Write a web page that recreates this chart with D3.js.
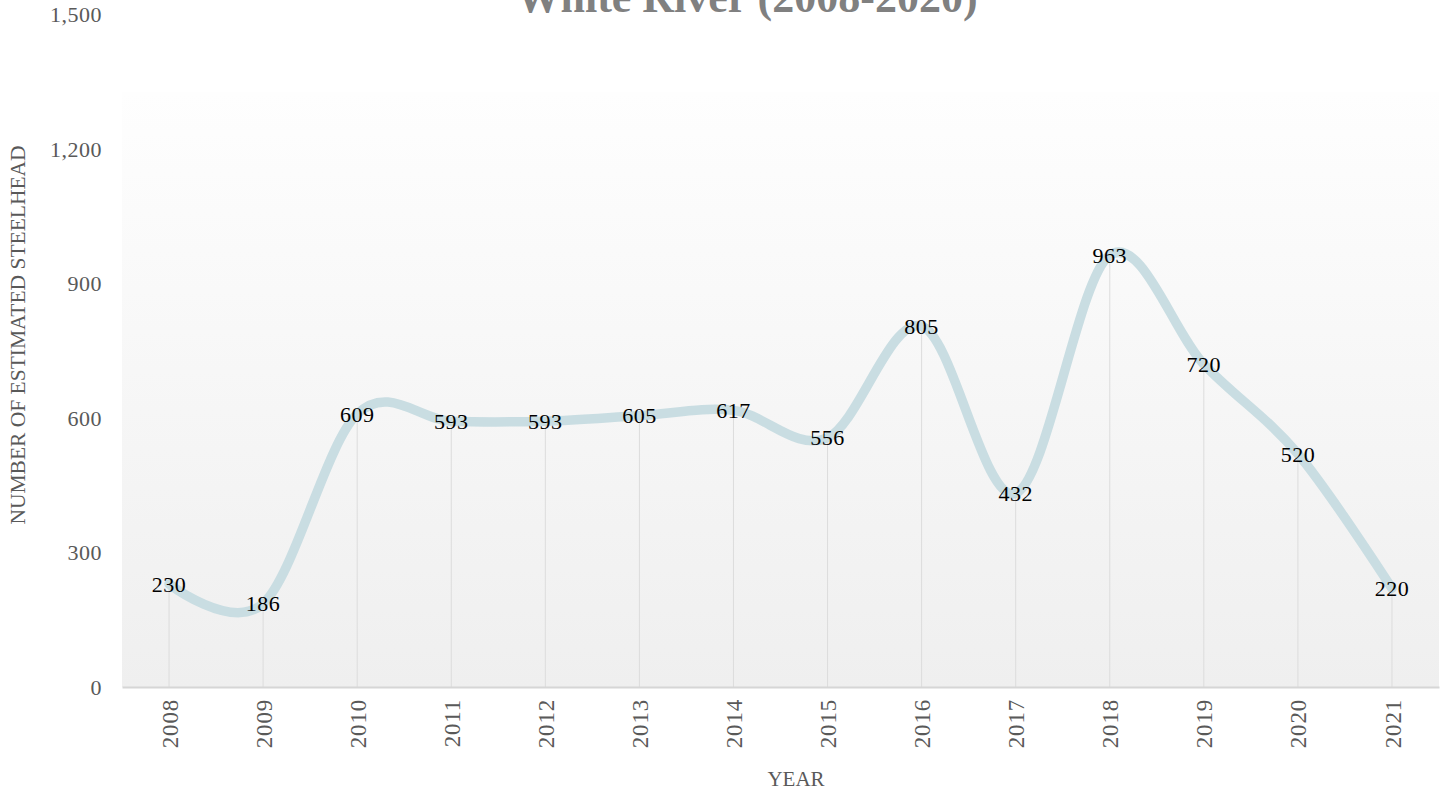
<!DOCTYPE html>
<html>
<head>
<meta charset="utf-8">
<script src="https://cdn.jsdelivr.net/npm/d3@7"></script>
<style>
  html, body { margin: 0; padding: 0; background: #ffffff; }
  svg { display: block; }
  text { font-family: "Liberation Serif", "Times New Roman", serif; }
</style>
</head>
<body>
<svg id="chart" width="1445" height="793"></svg>
<script>
const years = [2008, 2009, 2010, 2011, 2012, 2013, 2014, 2015, 2016, 2017, 2018, 2019, 2020, 2021];
const steelhead = [230, 186, 609, 593, 593, 605, 617, 556, 805, 432, 963, 720, 520, 220];
const yTicks = [0, 300, 600, 900, 1200, 1500];
const titleText = "White River (2008-2020)";
const xTitle = "YEAR";
const yTitle = "NUMBER OF ESTIMATED STEELHEAD";

const W = 1445, H = 793;
const plot = { left: 122, right: 1439, top: 92, bottom: 687 };

const svg = d3.select("#chart");

const defs = svg.append("defs");
const grad = defs.append("linearGradient").attr("id", "bg").attr("x1", 0).attr("y1", 0).attr("x2", 0).attr("y2", 1);
grad.append("stop").attr("offset", "0%").attr("stop-color", "#fefefe");
grad.append("stop").attr("offset", "100%").attr("stop-color", "#efefef");

const x = d3.scalePoint().domain(years).range([plot.left, plot.right]).padding(0.5);
const y = d3.scaleLinear().domain([0, 1500]).range([plot.bottom, 14.5]);

svg.append("rect")
  .attr("x", plot.left).attr("y", plot.top)
  .attr("width", plot.right - plot.left).attr("height", plot.bottom - plot.top)
  .attr("fill", "url(#bg)");

// title
svg.append("text")
  .attr("x", 747).attr("y", 12)
  .attr("text-anchor", "middle")
  .attr("font-size", 44).attr("font-weight", "bold")
  .attr("fill", "#808080")
  .text(titleText);

const data = years.map((yr, i) => ({ year: yr, value: steelhead[i] }));

// drop lines
svg.append("g").selectAll("line").data(data).join("line")
  .attr("x1", d => x(d.year)).attr("x2", d => x(d.year))
  .attr("y1", d => y(d.value)).attr("y2", y(0))
  .attr("stroke", "#dcdcdc").attr("stroke-width", 1);

// x axis
const xAxis = svg.append("g")
  .attr("transform", `translate(0,${y(0)})`)
  .call(d3.axisBottom(x).tickSize(0).tickPadding(0));
xAxis.select(".domain").attr("stroke", "#d6d6d6").attr("stroke-width", 2);
xAxis.selectAll(".tick text")
  .attr("font-family", "Liberation Serif, serif")
  .attr("font-size", 23)
  .attr("letter-spacing", "0.8px")
  .attr("fill", "#595959")
  .attr("transform", "rotate(-90)")
  .attr("text-anchor", "end")
  .attr("dy", "0.35em")
  .attr("x", -12)
  .attr("y", 0);

// y axis
const yAxis = svg.append("g")
  .attr("transform", `translate(${plot.left},0)`)
  .call(d3.axisLeft(y).tickValues(yTicks).tickFormat(d3.format(",")).tickSize(0).tickPadding(20));
yAxis.select(".domain").remove();
yAxis.selectAll(".tick text")
  .attr("font-family", "Liberation Serif, serif")
  .attr("font-size", 22)
  .attr("letter-spacing", "0.5px")
  .attr("fill", "#595959");

// line
const line = d3.line()
  .x(d => x(d.year))
  .y(d => y(d.value))
  .curve(d3.curveCardinal.tension(0));

svg.append("path")
  .datum(data)
  .attr("d", line)
  .attr("fill", "none")
  .attr("stroke", "#c9dde2")
  .attr("stroke-width", 9.5)
  .attr("stroke-linecap", "round")
  .attr("stroke-linejoin", "round");

// data labels
svg.append("g").selectAll("text").data(data).join("text")
  .attr("x", d => x(d.year))
  .attr("y", d => y(d.value))
  .attr("dy", "0.35em")
  .attr("text-anchor", "middle")
  .attr("font-size", 22)
  .attr("letter-spacing", "0.5px")
  .attr("fill", "#000000")
  .text(d => d.value);

// axis titles
svg.append("text")
  .attr("x", 796).attr("y", 786)
  .attr("text-anchor", "middle")
  .attr("font-size", 21)
  .attr("fill", "#595959")
  .text(xTitle);

svg.append("text")
  .attr("transform", `translate(25,335) rotate(-90)`)
  .attr("text-anchor", "middle")
  .attr("font-size", 21.5)
  .attr("fill", "#595959")
  .text(yTitle);
</script>
</body>
</html>
